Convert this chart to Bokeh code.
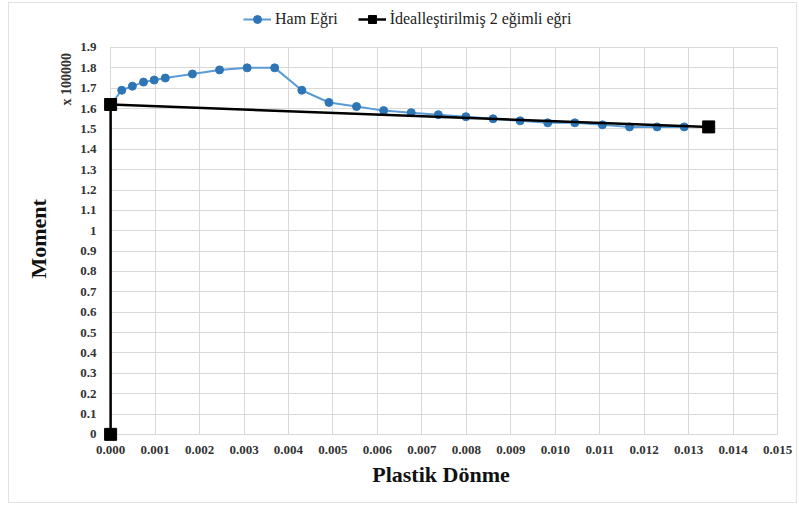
from bokeh.embed import file_html
from bokeh.layouts import column
from bokeh.models import (FixedTicker, Legend, LegendItem,
                          NumeralTickFormatter, Range1d, Title)
from bokeh.plotting import figure
from bokeh.resources import INLINE

# Raw moment-rotation curve (moment in units of 100000)
raw_rotation = [0.0, 0.00025, 0.00049, 0.00074, 0.00098, 0.00123, 0.00184,
                0.00245, 0.00307, 0.00369, 0.0043, 0.00491, 0.00553, 0.00614,
                0.00676, 0.00737, 0.00799, 0.0086, 0.00921, 0.00983, 0.01044,
                0.01106, 0.01167, 0.01229, 0.0129]
raw_moment = [1.62, 1.69, 1.71, 1.73, 1.74, 1.75, 1.77, 1.79, 1.80, 1.80,
              1.69, 1.63, 1.61, 1.59, 1.58, 1.57, 1.56, 1.55, 1.54, 1.53,
              1.53, 1.52, 1.51, 1.51, 1.51]

# Idealised bilinear curve
ideal_rotation = [0.0, 0.0, 0.01345]
ideal_moment = [0.0, 1.62, 1.51]

x_ticks = [0.000, 0.001, 0.002, 0.003, 0.004, 0.005, 0.006, 0.007, 0.008,
           0.009, 0.010, 0.011, 0.012, 0.013, 0.014, 0.015]
y_ticks = [0.0, 0.1, 0.2, 0.3, 0.4, 0.5, 0.6, 0.7, 0.8, 0.9, 1.0, 1.1, 1.2,
           1.3, 1.4, 1.5, 1.6, 1.7, 1.8, 1.9]
y_tick_labels = ["0", "0.1", "0.2", "0.3", "0.4", "0.5", "0.6", "0.7", "0.8",
                 "0.9", "1", "1.1", "1.2", "1.3", "1.4", "1.5", "1.6", "1.7",
                 "1.8", "1.9"]

SERIF = "Liberation Serif"
GRID = "#d9d9d9"

# The frame reaches up over the legend strip; markers at the origin stay whole.
p = figure(width=787, height=499, output_backend="svg", toolbar_location=None,
           x_range=Range1d(-0.00016, 0.01502), y_range=Range1d(-0.035, 2.0915),
           min_border_left=94, min_border_right=18,
           min_border_top=5, min_border_bottom=61)
p.background_fill_color = "white"
p.border_fill_color = "white"
p.outline_line_color = None

# axes
p.xaxis.ticker = FixedTicker(ticks=x_ticks)
p.xaxis.formatter = NumeralTickFormatter(format="0.000")
p.yaxis.ticker = FixedTicker(ticks=y_ticks)
p.yaxis.major_label_overrides = {t: s for t, s in zip(y_ticks, y_tick_labels)}
for ax in (p.xaxis, p.yaxis):
    ax.axis_line_color = None
    ax.major_tick_line_color = None
    ax.minor_tick_line_color = None
    ax.major_label_text_font = SERIF
    ax.major_label_text_font_style = "bold"
    ax.major_label_text_font_size = "13px"
    ax.major_label_text_color = "#333333"
    ax.axis_label_text_font = SERIF
    ax.axis_label_text_font_style = "bold"
    ax.axis_label_text_color = "#111111"
p.xaxis.major_label_standoff = -2
p.yaxis.major_label_standoff = 1
p.xaxis.axis_label = "Plastik Dönme"
p.xaxis.axis_label_text_font_size = "22px"
p.xaxis.axis_label_standoff = 5

# grid confined to the data box
p.xgrid.grid_line_color = GRID
p.ygrid.grid_line_color = GRID
p.xgrid.cross_bounds = (y_ticks[0], y_ticks[-1])
p.ygrid.cross_bounds = (x_ticks[0], x_ticks[-1])

# series
raw_line = p.line(raw_rotation, raw_moment, line_color="#5B9BD5", line_width=2)
raw_pts = p.scatter(raw_rotation, raw_moment, marker="circle", size=8,
                    fill_color="#2E75B6", line_color="#2E75B6")
ideal_line = p.line(ideal_rotation, ideal_moment, line_color="black", line_width=2.5)
ideal_pts = p.scatter(ideal_rotation, ideal_moment, marker="square", size=12,
                      fill_color="black", line_color="black")

legend = Legend(items=[
    LegendItem(label="Ham Eğri", renderers=[raw_line, raw_pts]),
    LegendItem(label="İdealleştirilmiş 2 eğimli eğri", renderers=[ideal_line, ideal_pts]),
], location=(140, 412), orientation="horizontal")
legend.label_text_font = "Times New Roman"
legend.label_text_font_size = "16px"
legend.label_text_color = "#222222"
legend.border_line_color = None
legend.background_fill_alpha = 0
legend.padding = 0
legend.margin = 0
legend.spacing = 20
legend.glyph_width = 28
legend.label_standoff = 4
p.add_layout(legend, "center")

# scale note and the moment caption, stacked left of the tick labels
scale_note = Title(text="x 100000", align="left", offset=336, standoff=7,
                   text_font=SERIF, text_font_style="bold",
                   text_font_size="14px", text_color="#333333")
p.add_layout(scale_note, "left")
moment_title = Title(text="Moment", align="left", offset=163, standoff=6,
                     text_font=SERIF, text_font_style="bold",
                     text_font_size="22px", text_color="#111111")
p.add_layout(moment_title, "left")

page = column(p, styles={"border": "1px solid #e2e2e2", "margin-left": "8px",
                         "margin-top": "2px"})

open("out.html", "w").write(file_html(page, INLINE))
